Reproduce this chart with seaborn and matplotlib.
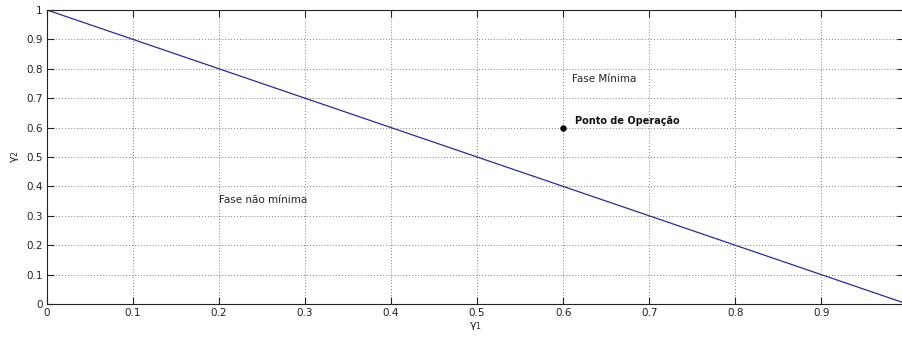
import matplotlib
matplotlib.use("Agg")
import matplotlib.pyplot as plt
import seaborn as sns
import pandas as pd

# Boundary between minimum and non-minimum phase: gamma1 + gamma2 = 1
gamma1_line = [0.0, 1.0]
gamma2_line = [1.0, 0.0]

# Operating point
op_gamma1 = [0.6]
op_gamma2 = [0.6]

x_ticks = [0, 0.1, 0.2, 0.3, 0.4, 0.5, 0.6, 0.7, 0.8, 0.9]
y_ticks = [0, 0.1, 0.2, 0.3, 0.4, 0.5, 0.6, 0.7, 0.8, 0.9, 1]

sns.set_style("ticks")
plt.rcParams["font.family"] = ["DejaVu Sans"]

fig = plt.figure(figsize=(9.02, 3.42), dpi=100)
ax = fig.add_axes([47 / 902, 1 - 304 / 342, 1 - 47 / 902 + 0.002, 294 / 342])

line_df = pd.DataFrame({"g1": gamma1_line, "g2": gamma2_line})
sns.lineplot(data=line_df, x="g1", y="g2", ax=ax, color="#2b2b8c", linewidth=0.9)

op_df = pd.DataFrame({"g1": op_gamma1, "g2": op_gamma2})
sns.scatterplot(data=op_df, x="g1", y="g2", ax=ax, color="black", s=18,
                edgecolor="black", zorder=5)

ax.set_xlim(0, 0.996)
ax.set_ylim(0, 1)
ax.set_xticks(x_ticks)
ax.set_xticklabels([f"{v:g}" for v in x_ticks])
ax.set_yticks(y_ticks)
ax.set_yticklabels([f"{v:g}" for v in y_ticks])
ax.tick_params(direction="in", length=5, width=0.8, labelsize=7.5, colors="#222222",
               top=True, right=True, pad=3)
ax.grid(True, linestyle=(0, (1, 2.5)), color="#555555", linewidth=0.6)

for side in ["left", "bottom", "top", "right"]:
    ax.spines[side].set_linewidth(0.8)
    ax.spines[side].set_color("#222222")

ax.set_xlabel(r"$\mathregular{\gamma_1}$", fontsize=8, labelpad=1, color="#222222")
ax.set_ylabel(r"$\mathregular{\gamma_2}$", fontsize=8, labelpad=4, color="#222222")

ax.text(0.61, 0.766, "Fase Mínima", fontsize=7.5, va="center", ha="left", color="#222222")
ax.text(0.614, 0.622, "Ponto de Operação", fontsize=7, fontweight="bold",
        va="center", ha="left", color="#111111")
ax.text(0.2, 0.354, "Fase não mínima", fontsize=7.5, va="center", ha="left", color="#222222")

fig.savefig("out.png", dpi=100)
